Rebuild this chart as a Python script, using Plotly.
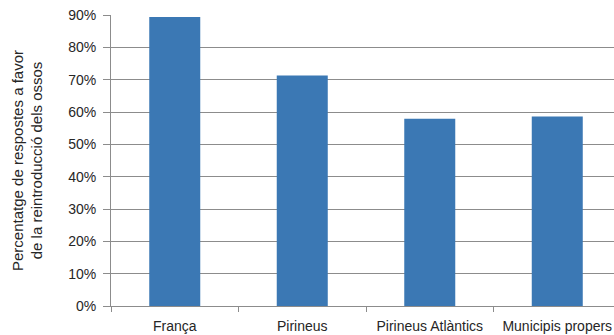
import plotly.graph_objects as go

categories = ["França", "Pirineus", "Pirineus Atlàntics", "Municipis propers"]
values = [89.4, 71.3, 57.9, 58.6]
y_ticks = [0, 10, 20, 30, 40, 50, 60, 70, 80, 90]
y_tick_labels = [f"{v}%" for v in y_ticks]

bar_color = "#3b78b4"
grid_color = "#8c8c8c"
font_family = "Liberation Sans, Arial, sans-serif"

fig = go.Figure(
    go.Bar(x=categories, y=values, marker=dict(color=bar_color, line=dict(width=0)))
)

fig.update_layout(
    width=614,
    height=335,
    margin=dict(l=111, r=0, t=15, b=29),
    paper_bgcolor="white",
    plot_bgcolor="white",
    bargap=0.6,
    showlegend=False,
    font=dict(family=font_family, size=12, color="#262626"),
)

fig.update_xaxes(
    range=[-0.5, 3.445],
    showgrid=False,
    showline=True,
    linecolor=grid_color,
    linewidth=1,
    ticks="outside",
    tickson="boundaries",
    ticklen=5,
    tickcolor=grid_color,
    ticklabelstandoff=7,
    tickfont=dict(size=14, color="#262626"),
)

fig.update_yaxes(
    range=[0, 90],
    tickmode="array",
    tickvals=y_ticks,
    ticktext=y_tick_labels,
    showgrid=True,
    gridcolor=grid_color,
    gridwidth=1,
    showline=True,
    linecolor=grid_color,
    linewidth=1,
    ticks="outside",
    ticklen=7,
    tickcolor=grid_color,
    ticklabelstandoff=4,
    tickfont=dict(size=14, color="#262626"),
    zeroline=False,
    title=dict(
        text="Percentatge de respostes a favor<br>de la reintroducció dels ossos",
        font=dict(size=15, color="#262626"),
        standoff=21,
    ),
)

fig.write_html("out.html")
